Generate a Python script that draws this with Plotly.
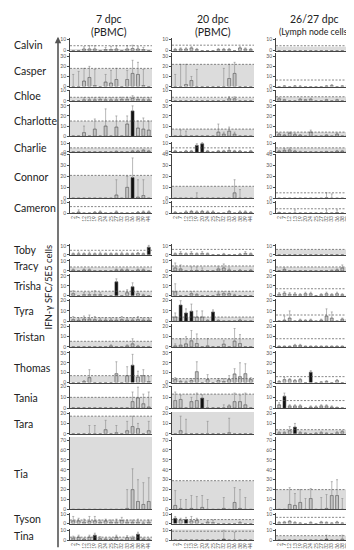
import plotly.graph_objects as go

W, H = 354, 550

peptides = ["2", "7", "12", "13", "19", "20", "24", "25", "27", "32", "33", "36", "38", "39", "44"]
animals = ["Calvin", "Casper", "Chloe", "Charlotte", "Charlie", "Connor", "Cameron",
           "Toby", "Tracy", "Trisha", "Tyra", "Tristan", "Thomas", "Tania", "Tara",
           "Tia", "Tyson", "Tina"]
timepoints = [("7 dpc", "(PBMC)"), ("20 dpc", "(PBMC)"), ("26/27 dpc", "(Lymph node cells)")]

# ---- 7 dpc (PBMC) ----
mean_7 = [
    [0, 0, 1.5, 1.5, 1.5, 0, 1, 1, 1.5, 0, 1.5, 2, 1.5, 1, 0],
    [0, 0, 5.5, 9, 1, 0, 4.5, 3.5, 7, 0, 7, 13, 12, 1, 0],
    [0, 0, 1, 1, 1, 1.5, 1, 1, 1, 1.5, 1.5, 2.5, 1.5, 1, 1],
    [0, 0, 3.5, 0, 7, 0, 10, 0, 9, 0, 12, 25, 8, 7, 6],
    [0, 0, 0, 0, 0, 0, 0, 0, 0.5, 0, 0, 1, 1, 2, 1],
    [0, 0, 0, 0, 0, 0, 0, 0, 3, 0, 10, 19, 1, 2.5, 0],
    [0, 1, 0, 0, 0.5, 1, 0, 0, 1, 0, 0, 0, 0.5, 1, 1],
    [1, 1, 1, 1, 1, 1, 1, 1, 1, 1, 1, 1, 1.5, 1, 8.5],
    [1, 0, 1, 1, 0, 0, 0, 0, 1, 1, 1, 0, 1, 1, 0],
    [2, 0, 1, 1, 1, 1, 0, 0, 14, 0, 3, 9, 2, 0.5, 0],
    [1.5, 1, 2, 2, 1.5, 1, 1, 1, 1, 1.5, 1, 1, 1.5, 1, 1],
    [0, 0, 0, 0, 0, 0, 0, 1, 0, 0, 1, 3, 0.5, 0, 0],
    [0, 0, 1, 5, 0, 0, 0, 0, 9, 0, 7, 17.5, 5.5, 7, 1],
    [0, 0, 0, 0, 0, 0, 0, 0, 0, 0, 0, 6, 9.5, 4, 1],
    [0, 0, 0, 0, 0, 0, 4, 0, 1, 0, 3, 7, 5, 0, 3],
    [0, 0, 0, 0, 0, 0, 0, 0, 0, 0, 1, 20, 8, 5, 8],
    [3, 3, 1.5, 2.5, 3, 1.5, 3, 1.5, 1.5, 3.5, 1.5, 1.5, 1.5, 0.5, 1.5],
    [2, 3, 1, 3, 5, 1.5, 1, 1, 3, 0, 2.5, 2, 6, 1, 0.5],
]
sd_7 = [
    [0, 0, 2, 3, 3, 0, 2, 3, 3, 0, 3, 3, 2, 2, 0],
    [12, 15, 12.5, 11, 16, 0, 7.5, 12.5, 11, 0, 9, 13, 12, 16, 0],
    [0, 0, 2, 2, 2, 2, 2, 2, 2, 2, 2, 2.5, 2, 2, 2],
    [0, 0, 6.5, 0, 10, 0, 17, 0, 11, 0, 8, 5, 7, 11, 9],
    [0, 0, 0, 0, 0, 0, 0, 0, 1, 0, 0, 1, 1, 1, 1],
    [0, 0, 0, 0, 0, 0, 0, 0, 14, 0, 10, 18, 16, 14.5, 0],
    [0, 2, 0, 0, 1, 1, 0, 0, 1, 0, 0, 0, 1, 1, 1],
    [1, 2, 1, 2, 1, 2, 1, 1, 1, 2, 1, 1, 1, 1, 2],
    [1, 0, 1, 1, 0, 0, 0, 0, 1, 1, 1, 0, 1, 1, 0],
    [3, 0, 2, 2, 4, 2, 0, 0, 3, 0, 3, 4, 2, 1, 0],
    [3, 2, 3, 4, 3, 2, 2, 2, 2, 3, 2, 2, 3, 2, 2],
    [0, 0, 0, 0, 0, 0, 0, 1, 0, 0, 1, 5, 1, 0, 0],
    [0, 0, 1, 8, 0, 0, 0, 0, 12, 0, 9, 11, 6, 6, 5],
    [0, 0, 0, 0, 0, 0, 0, 0, 0, 0, 0, 9, 10, 9, 14],
    [0, 0, 0, 8, 8, 0, 9, 0, 7, 0, 9, 10, 5, 0, 9],
    [0, 0, 0, 0, 0, 0, 0, 0, 0, 0, 19, 21, 22, 22, 24],
    [5, 3, 3.5, 5.5, 5, 2.5, 2, 2.5, 3.5, 3.5, 2.5, 2.5, 3.5, 1.5, 2.5],
    [2, 2, 1, 2, 2, 2, 1, 1, 2, 0, 2, 2, 2, 1, 1],
]
pos_7 = [[], [], [], [11], [], [11], [], [14], [], [8, 11], [], [], [11], [], [], [], [], [4, 12]]
thr_7 = [4.5, 18, 3.5, 15, 5, 21, 6, 5, 4, 4.5, 3.5, 5.5, 7, 10, 17, None, 4, 3]
band_7 = [1.5, 18, 3.5, 15, 5, 21, 0, 0, 4, 4.5, 3.5, 5.5, 7, 10, 17, 73, 4, 3]

# ---- 20 dpc (PBMC) ----
mean_20 = [
    [1, 1.5, 1.5, 2.5, 1, 0, 0, 0, 1, 1, 1, 0, 2.5, 1.5, 1],
    [0, 0, 2, 6, 0, 0, 0, 0, 0, 0, 8, 13, 0, 0, 0],
    [0, 0, 0, 0, 0, 0, 0, 0, 0, 0, 2, 2, 0, 0, 0],
    [0, 0, 0, 0, 0, 0, 0, 0, 4, 2, 5, 2, 0, 0, 0],
    [1, 0, 1, 1, 8, 10, 1, 0, 1, 1, 2, 1, 1, 0, 1],
    [0, 0, 0, 0, 0, 0, 0, 0, 0, 0, 0, 5, 0, 0, 0],
    [0.5, 0, 1, 1.5, 1, 1.5, 1, 1, 0, 0, 1.5, 0, 1, 1, 0.5],
    [1, 1.5, 1, 1.5, 1, 1.5, 1, 0, 0, 0.5, 0, 0, 0.5, 1.5, 1],
    [3, 2, 0, 0, 0.5, 0, 0, 0, 2, 3, 1, 0, 0.5, 0, 0.5],
    [4, 0, 0, 2, 1, 0, 0, 0, 1.5, 2, 2, 0.5, 0, 0, 0],
    [4, 15.7, 8, 9.7, 4, 4, 0.5, 9, 0.5, 0, 0, 0, 1, 0, 0],
    [1, 1.7, 3, 6, 3.3, 0, 1, 0, 0, 2.7, 0, 5.7, 3.3, 0, 0],
    [3, 1, 0.5, 2, 11, 0, 3, 0, 2, 1, 3, 8.7, 6, 9, 3],
    [7, 8, 0, 6, 7, 9.3, 0, 0, 0, 0, 2, 6, 6, 3, 0],
    [0, 3, 0, 0, 0, 0, 0, 0, 0, 0, 1, 0, 0, 0, 0],
    [4, 1, 0, 1, 0, 2, 0, 0, 0, 1, 0, 7, 1, 0, 0],
    [6, 4, 4.5, 3, 3.5, 0, 1.5, 1, 0, 0, 0, 0, 1, 0, 0],
    [0, 0, 0, 0, 0, 0, 0, 0, 0, 1, 0, 0, 0, 0, 0],
]
sd_20 = [
    [1, 1, 1, 1, 1, 0, 0, 0, 1, 1, 1, 0, 1, 1, 1],
    [12, 22, 20, 4, 17, 0, 0, 0, 0, 18, 14, 11, 0, 0, 0],
    [0, 0, 0, 0, 0, 0, 0, 0, 0, 0, 2, 2, 0, 0, 0],
    [0, 6, 5, 0, 0, 0, 0, 0, 8, 2, 4, 2, 0, 0, 0],
    [1, 0, 1, 1, 2, 2, 1, 0, 1, 1, 3, 1, 1, 0, 1],
    [0, 0, 0, 0, 5, 0, 0, 0, 0, 0, 0, 12, 8, 0, 0],
    [1, 0, 1, 1, 1, 1, 1, 1, 0, 0, 1, 0, 1, 1, 1],
    [1, 2, 1, 2, 1, 2, 1, 0, 0, 1, 0, 0, 1, 2, 1],
    [5, 4, 0, 4, 3.5, 3, 0, 0, 2, 4, 2, 0, 1, 0, 1],
    [8, 0, 0, 2, 1, 0, 0, 0, 2, 2, 2, 1, 0, 0, 0],
    [4, 4.3, 4, 7, 6, 6, 1, 2, 1, 0, 0, 0, 1, 0, 0],
    [2, 6.3, 7, 10, 9.4, 0, 7, 0, 0, 3.3, 0, 12.3, 8.7, 0, 0],
    [2, 1, 1, 2, 10, 0, 5, 0, 2, 3, 4, 5.3, 14, 10, 2],
    [8, 4, 0, 4, 7, 3, 7, 0, 0, 3, 1, 8, 6, 11, 0],
    [0, 14, 14, 0, 0, 0, 12, 0, 0, 0, 14, 0, 0, 0, 0],
    [15, 9, 10, 13, 13, 12, 10, 0, 0, 11, 0, 15, 19, 12, 0],
    [2, 2, 2.5, 5, 2.5, 0, 1.5, 3, 0, 0, 0, 0, 1, 0, 0],
    [0, 0, 0, 0, 0, 0, 0, 0, 0, 9, 0, 8, 0, 0, 0],
]
pos_20 = [[], [], [], [], [4, 5], [], [], [], [], [], [1, 2, 3, 7], [], [], [5], [], [], [0, 2], [9]]
thr_20 = [5, 22, 3.5, 7, 5, 11, 6, 6, 5, 4.5, 4, 8, 4, 13, None, 29, 4.5, 9]
band_20 = [0, 22, 3, 7, 0, 11, 0, 0, 5, 4.5, 4, 8, 4, 13, 22, 29, 4.5, 11]

# ---- 26/27 dpc (lymph node cells) ----
mean_26 = [
    [0, 0, 0, 0, 0, 0, 0, 0, 0, 0, 0, 0, 0, 0, 0],
    [0, 0.5, 0, 0.5, 0, 0, 0, 0, 0, 0.5, 1, 0, 0.5, 1, 0],
    [2, 1, 0, 0, 1.5, 1, 1.5, 0, 0, 1, 0, 1, 0, 1, 0],
    [2, 1, 3, 1.5, 1, 0, 4, 0, 0, 1, 0, 2, 0, 1, 0],
    [1, 2, 2.5, 1, 0, 0, 0, 0, 0, 0.5, 0, 1, 1, 1, 1],
    [0, 0, 0, 0, 0, 0, 0, 0, 0, 0.5, 0, 0, 0, 0, 0],
    [0.5, 0, 0, 0, 0, 0, 0, 0, 0, 0, 0, 0.5, 0, 0, 0],
    [0, 0, 0, 0, 0, 0, 0, 0, 0, 0, 0, 0, 0, 0, 0],
    [0, 1.5, 0, 0, 0, 0, 0, 0, 0, 0, 0, 1, 3, 0, 0],
    [1.5, 2.5, 1.5, 1.5, 1, 2, 2, 0, 1, 2, 1, 2, 1, 0.5, 0],
    [0, 1, 3, 0, 1, 0.5, 1, 0, 1, 5, 3, 0, 2, 2, 0],
    [0.5, 0.5, 0.5, 1.5, 1.5, 0.5, 0.5, 0.5, 0.5, 0.5, 0.5, 0.5, 0.5, 0.5, 0],
    [1, 3, 3, 2, 3, 0, 10.5, 0, 0.5, 1, 0, 2, 0, 1, 2],
    [3, 11, 2, 2, 2, 0, 1, 1, 2, 2, 1, 0.5, 0, 0.5, 0],
    [1, 1, 3, 6.5, 1, 0.5, 0, 0.5, 1, 0.5, 0, 1, 2, 1, 0],
    [0, 0, 5, 4, 7, 0, 11, 0, 0, 1, 14, 14, 0, 0, 0],
    [1, 1.5, 2.5, 1, 0.5, 0, 1, 0, 1.5, 1, 0.5, 1.5, 0.5, 1, 0.5],
    [0, 0, 0, 0, 0, 0, 0, 0, 0, 1, 0, 0, 1, 0, 0],
]
sd_26 = [
    [0, 0, 0, 0, 0, 0, 0, 0, 0, 0, 0, 0, 0, 0, 0],
    [0, 0.5, 0, 0.5, 1, 0, 0, 0, 0, 0.5, 1, 0, 0.5, 1, 0],
    [1, 0.5, 0, 0, 1, 0.5, 1, 0, 0, 0.5, 0, 0.5, 0, 0.5, 0],
    [1, 1, 1, 1, 0.5, 0, 2, 0, 0, 0.5, 0, 1, 0, 0.5, 0],
    [1, 2, 2.5, 1, 1, 0, 0, 0, 0, 0.5, 0, 1, 1, 1, 1],
    [0, 0, 0, 0, 0, 0, 0, 0, 0, 4.5, 4, 0, 0, 0, 0],
    [0.5, 0, 0, 3, 0, 0, 0, 0, 0, 3, 0, 2.5, 0, 0, 0],
    [0, 0, 0, 0, 0, 0, 0, 0, 0, 0, 0, 0, 0, 0, 0],
    [0, 1.5, 0, 0, 0, 0, 0, 0, 0, 0, 1, 1, 3, 0, 0],
    [1.5, 1.5, 1.5, 1.5, 1, 1.5, 1.5, 0, 1, 1.5, 1, 1.5, 1, 0.5, 0],
    [0, 4, 7, 0, 1, 1, 1, 0, 1, 7, 6, 0, 1, 1, 0],
    [0.5, 0.5, 0.5, 1, 1, 0.5, 0.5, 0.5, 0.5, 0.5, 0.5, 0.5, 0.5, 0.5, 0],
    [1, 2, 1, 1, 1, 0, 1.5, 0, 0.5, 1, 0, 1, 0, 1, 1],
    [2, 3, 1, 1, 1, 0, 1, 1, 1, 1, 1, 0.5, 0, 0.5, 0],
    [1, 1, 4, 3.5, 1, 0.5, 0, 0.5, 1, 0.5, 0, 1, 1, 1, 0],
    [0, 0, 17, 12, 13, 11, 10, 0, 12, 14, 14, 16, 11, 10, 0],
    [1, 1, 1, 1, 0.5, 0, 1, 0, 1, 1, 0.5, 1, 0.5, 1, 0.5],
    [0, 0, 0, 0, 0, 0, 0, 0, 0, 4, 0, 0, 4, 0, 0],
]
pos_26 = [[], [], [], [], [], [], [], [], [], [], [], [], [6], [1], [3], [], [], [9]]
thr_26 = [4.5, 6.5, 4, 4, 5, 5, 4, 6, 4, 7, 6, 8, 6, 7, 4, 20, 7, 4.5]
band_26 = [3.5, 0, 4, 4, 5, 0, 0, 6, 4, 0, 0, 0, 0, 0, 4, 20, 0, 4.5]

# ---------- layout geometry (pixels) ----------
row_top = [27.8, 43.6, 80.3, 94.7, 133.3, 144.9, 192.9, 236.2, 251.3, 266.3, 291.3,
           317.3, 344, 379, 405.7, 431, 507.5, 524]
row_zero = [41, 77.3, 91.7, 127.3, 143.3, 190, 205, 247, 263.3, 288.3, 314, 340,
            376, 401.7, 427.7, 504, 518.3, 535]
row_max = [12, 33, 11, 32, 12, 41, 11, 12, 12, 22, 22, 22, 32, 21, 21, 73, 12, 11]
col_x = [(62, 144), (164, 246), (268, 348)]
title_x = [101, 205, 306]
title_size2 = [10.5, 10.5, 8.8]
label_rows = {6, 17}
FONT = "Lato"

columns = [
    (mean_7, sd_7, pos_7, thr_7, band_7),
    (mean_20, sd_20, pos_20, thr_20, band_20),
    (mean_26, sd_26, pos_26, thr_26, band_26),
]

fig = go.Figure()
layout = {}
shapes = []
annotations = []
xs = list(range(len(peptides)))

k = 0
for r, name in enumerate(animals):
    for c, (means, sds, pos, thr, band) in enumerate(columns):
        k += 1
        xa = "x" if k == 1 else f"x{k}"
        ya = "y" if k == 1 else f"y{k}"
        xkey = "xaxis" if k == 1 else f"xaxis{k}"
        ykey = "yaxis" if k == 1 else f"yaxis{k}"
        m = means[r]
        s = sds[r]
        colors = ["#111111" if i in pos[r] else "#c4c4c4" for i in xs]
        fig.add_trace(go.Bar(
            x=xs, y=m, xaxis=xa, yaxis=ya, width=0.55,
            marker=dict(color=colors, line=dict(color="#3a3a3a", width=0.5)),
            error_y=dict(type="data", array=s, arrayminus=[0] * len(s), symmetric=False,
                         color="#8a8a8a", thickness=0.6, width=1),
            showlegend=False, hoverinfo="skip",
        ))
        x0, x1 = col_x[c]
        layout[xkey] = dict(
            domain=[x0 / W, x1 / W], anchor=ya, range=[-0.6, 14.6],
            showline=True, linecolor="#444", linewidth=0.8, showgrid=False, zeroline=False,
            tickmode="array", tickvals=xs,
            ticktext=peptides if r in label_rows else [""] * len(xs),
            showticklabels=r in label_rows, ticks="",
            tickangle=-90, tickfont=dict(size=5, color="#555", family=FONT),
        )
        layout[ykey] = dict(
            domain=[1 - row_zero[r] / H, 1 - row_top[r] / H], anchor=xa,
            range=[0, row_max[r]], dtick=10, showline=True, linecolor="#444", linewidth=0.8,
            ticks="outside", ticklen=2, tickwidth=0.6, tickcolor="#444",
            showgrid=False, zeroline=False,
            tickfont=dict(size=5, color="#555", family=FONT),
        )
        if band[r]:
            shapes.append(dict(type="rect", xref=f"{xa} domain", yref=ya, x0=0, x1=1,
                               y0=0, y1=min(band[r], row_max[r]), fillcolor="#dcdcdc",
                               line=dict(width=0), layer="below"))
        if thr[r] is not None:
            shapes.append(dict(type="line", xref=f"{xa} domain", yref=ya, x0=0, x1=1,
                               y0=thr[r], y1=thr[r],
                               line=dict(color="#555", width=0.7, dash="2px,1.5px"),
                               layer="above"))
    annotations.append(dict(
        text=name, x=4 / W, y=1 - ((row_top[r] + row_zero[r]) / 2 + 1) / H,
        xref="paper", yref="paper", xanchor="left", yanchor="middle", showarrow=False,
        font=dict(size=10.5, color="#222", family=FONT),
    ))

for c, (t1, t2) in enumerate(timepoints):
    annotations.append(dict(
        text=t1, x=title_x[c] / W, y=1 - 9 / H, xref="paper", yref="paper",
        xanchor="center", yanchor="middle", showarrow=False,
        font=dict(size=10.5, color="#222", family=FONT),
    ))
    annotations.append(dict(
        text=t2, x=title_x[c] / W, y=1 - 22 / H, xref="paper", yref="paper",
        xanchor="center", yanchor="middle", showarrow=False,
        font=dict(size=title_size2[c], color="#222", family=FONT),
    ))

annotations.append(dict(
    text="IFN-γ SFC/5E5 cells", x=40 / W, y=1 - 280 / H, xref="paper", yref="paper",
    textangle=-90, showarrow=False, xanchor="center", yanchor="middle",
    font=dict(size=9.5, color="#222", family=FONT),
))
annotations.append(dict(
    text="", x=50 / W, y=1 - 27 / H, xref="paper", yref="paper",
    showarrow=True, ax=0, ay=512, axref="pixel", ayref="pixel",
    arrowhead=2, arrowsize=0.8, arrowwidth=1.6, arrowcolor="#555",
))

fig.update_layout(
    width=W, height=H, autosize=False,
    margin=dict(l=0, r=0, t=0, b=0),
    paper_bgcolor="white", plot_bgcolor="rgba(0,0,0,0)",
    shapes=shapes, annotations=annotations, bargap=0.3,
    font=dict(family=FONT),
    **layout,
)
fig.write_html("out.html")
